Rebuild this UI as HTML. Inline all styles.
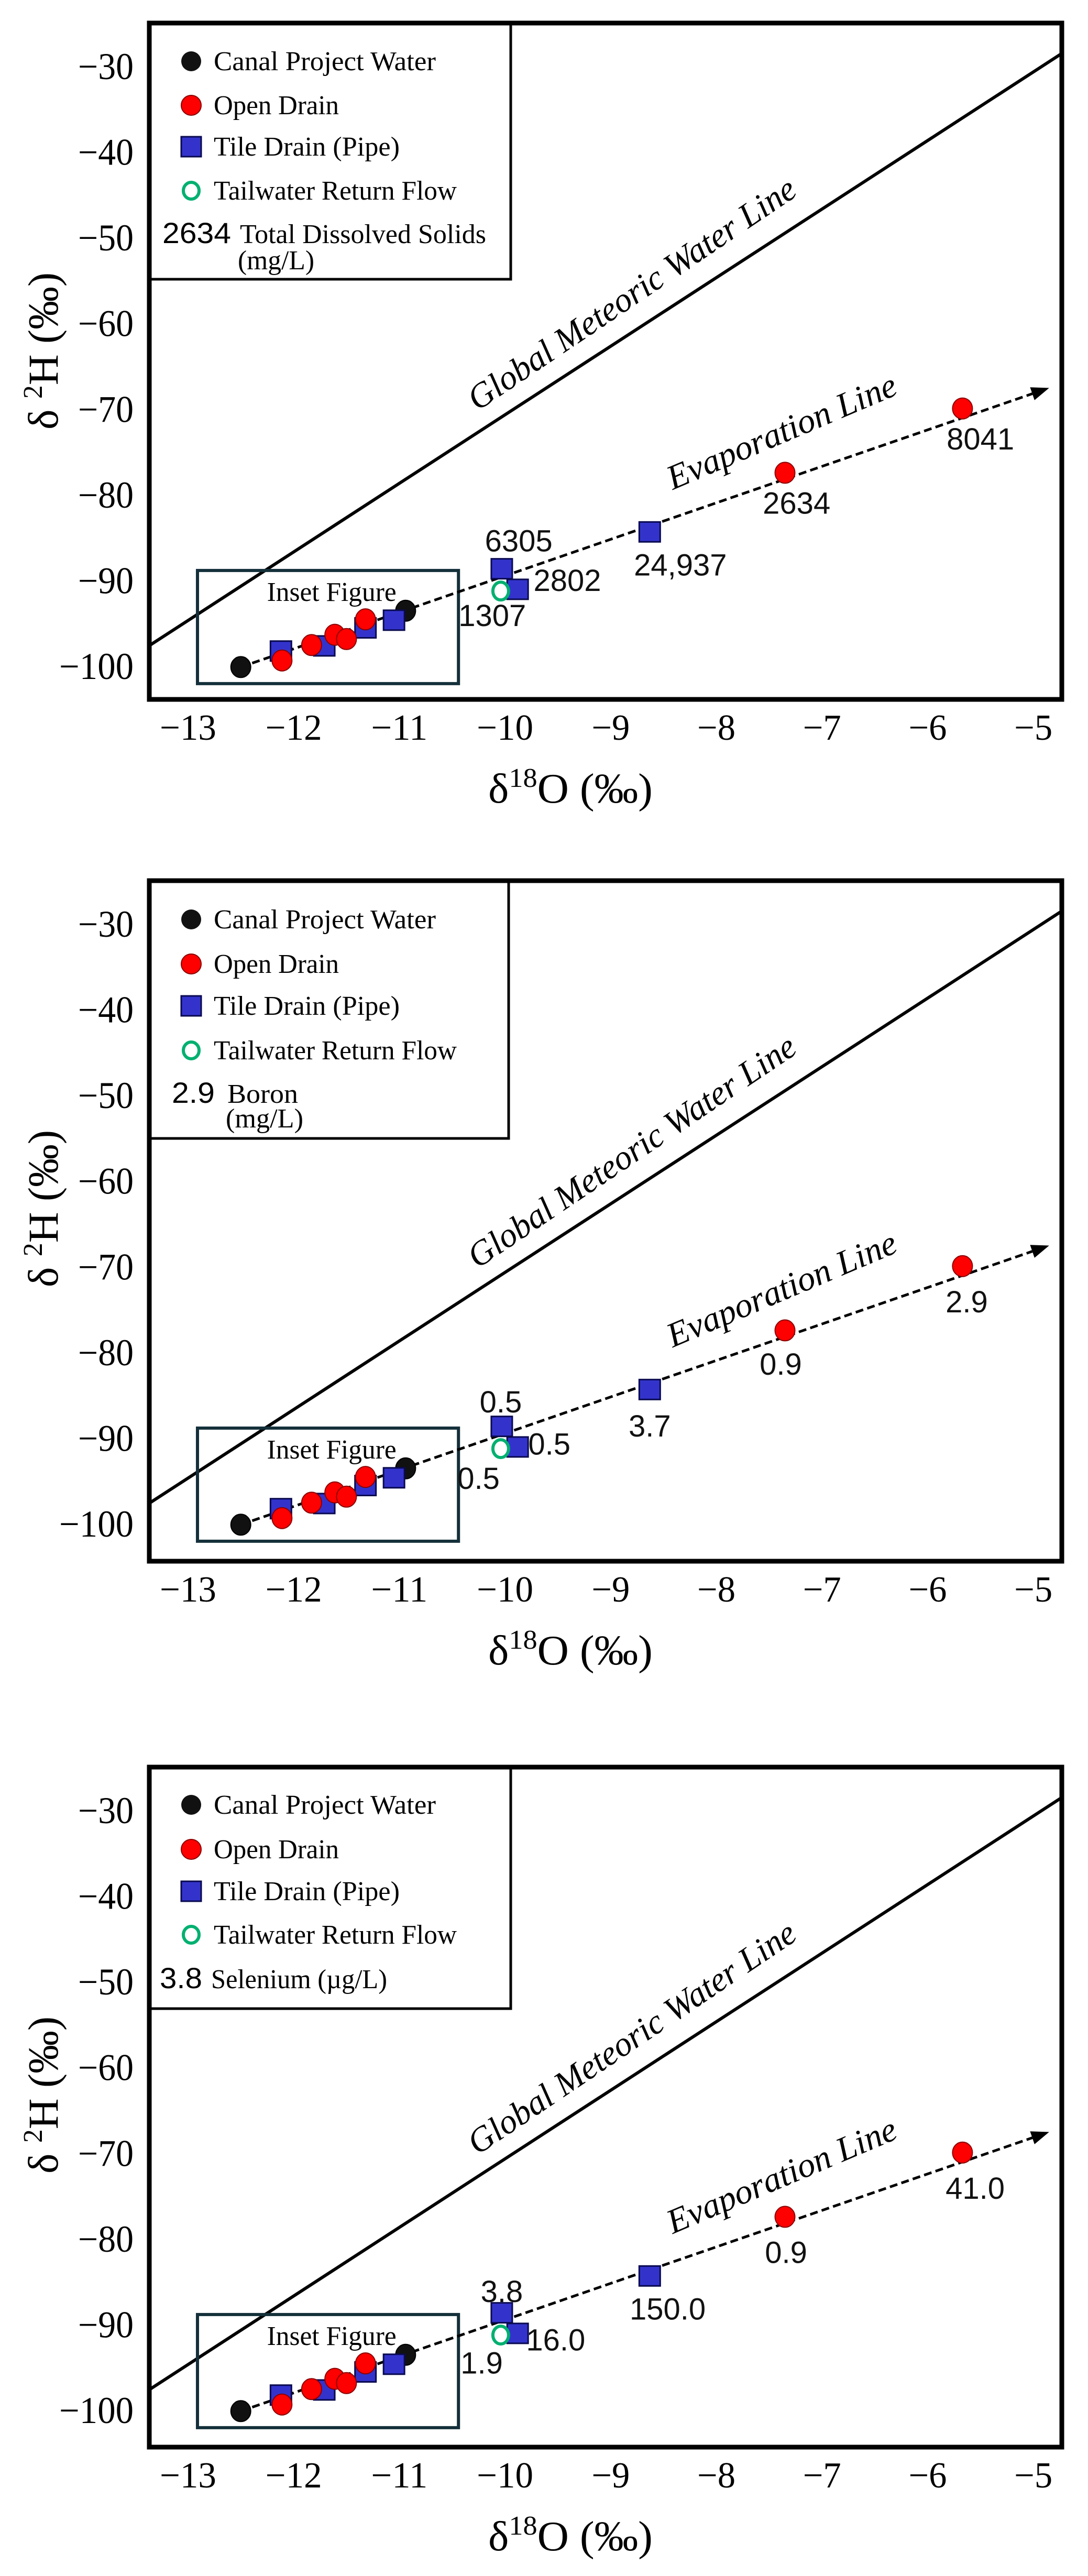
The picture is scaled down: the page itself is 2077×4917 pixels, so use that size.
<!DOCTYPE html>
<html>
<head>
<meta charset="utf-8">
<style>
  html,body{margin:0;padding:0;background:#fff;}
  svg{display:block;}
</style>
</head>
<body>
<svg id="fig" width="2077" height="4917" viewBox="0 0 2077 4917" xmlns="http://www.w3.org/2000/svg"></svg>
<script>
// ---------- data ----------
const xTicks = [-13,-12,-11,-10,-9,-8,-7,-6,-5];
const yTicks = [-30,-40,-50,-60,-70,-80,-90,-100];
const canalX = [-12.58,-11.02];
const canalY = [-100.07,-93.5];
const openX = [-12.19,-11.91,-11.69,-11.58,-11.40,-7.43,-5.75];
const openY = [-99.3,-97.5,-96.3,-96.8,-94.5,-77.4,-69.9];
const tileX = [-12.20,-11.79,-11.40,-11.13,-10.11,-9.96,-8.71];
const tileY = [-98.2,-97.6,-95.5,-94.6,-88.6,-91.0,-84.3];
const tailX = [-10.12];
const tailY = [-91.2];
const evapStart = [-12.58,-100.07];
const evapEnd = [-4.93,-67.5];
// annotation values per panel
const tdsValues = ["8041","2634","24,937","6305","2802","1307"];
const boronValues = ["2.9","0.9","3.7","0.5","0.5","0.5"];
const seleniumValues = ["41.0","0.9","150.0","3.8","16.0","1.9"];
const tdsLabelX = [-5.58,-7.32,-8.42,-9.95,-9.49,-10.20];
const tdsLabelY = [-73.4,-80.9,-88.1,-85.3,-89.9,-94.0];
const boronLabelX = [-5.71,-7.47,-8.71,-10.12,-9.66,-10.33];
const boronLabelY = [-74.0,-81.3,-88.5,-85.7,-90.6,-94.6];
const seleniumLabelX = [-5.63,-7.42,-8.54,-10.11,-9.60,-10.30];
const seleniumLabelY = [-74.0,-81.5,-88.1,-86.05,-91.7,-94.4];

// ---------- layout ----------
const NS = "http://www.w3.org/2000/svg";
const svg = document.getElementById('fig');
const L = 285, R = 2027;
const XMIN = -13.446, XMAX = -4.81;
const YMAX = -24.93, YPX = 16.36; // px per unit
const SERIF = '"Liberation Serif", "Times New Roman", serif';
const SANS = '"Liberation Sans", Arial, sans-serif';

function el(tag, attrs, parent){
  const e = document.createElementNS(NS, tag);
  for (const k in attrs) e.setAttribute(k, attrs[k]);
  (parent||svg).appendChild(e);
  return e;
}

const panels = [
  {top:44, bottom:1335, name:'tds', values:tdsValues, lx:tdsLabelX, ly:tdsLabelY, legBottom:533, legRight:975,
   rows:[117,201,280,364]},
  {top:1681, bottom:2980, name:'boron', values:boronValues, lx:boronLabelX, ly:boronLabelY, legBottom:2173, legRight:971,
   rows:[1755,1840,1920,2005]},
  {top:3373, bottom:4671, name:'selenium', values:seleniumValues, lx:seleniumLabelX, ly:seleniumLabelY, legBottom:3834, legRight:975,
   rows:[3445,3530,3610,3693]}
];

panels.forEach((p, pi) => {
  const g = el('g', {});
  
  
  const sx = v => L + (v - XMIN) / (XMAX - XMIN) * (R - L);
  const sy = v => p.top + (YMAX - v) * YPX;

  const cp = el('clipPath', {id:'clip'+pi}, g);
  el('rect', {x:L, y:p.top, width:R-L, height:p.bottom-p.top}, cp);
  const plot = el('g', {'clip-path':'url(#clip'+pi+')'}, g);

  // GMWL
  const gm = el('line', {x1:sx(XMIN), y1:sy(8*XMIN+10), x2:sx(XMAX), y2:sy(8*XMAX+10), stroke:'#000', 'stroke-width':6}, plot);
  
  
  const gt = el('text', {x:0, y:0, 'font-family':SERIF, 'font-style':'italic', 'font-size':66, 'text-anchor':'middle',
    textLength:740, lengthAdjust:'spacingAndGlyphs',
    transform:'translate(' + sx(-8.82) + ',' + sy(-57.6) + ') rotate(-34)'}, plot);
  gt.textContent = 'Global Meteoric Water Line';
  
  

  // Inset box
  const ib = el('rect', {x:sx(-12.99), y:sy(-88.8), width:sx(-10.52)-sx(-12.99), height:sy(-102.0)-sy(-88.8),
    fill:'none', stroke:'#14303a', 'stroke-width':6}, plot);
  
  
  const it = el('text', {x:sx(-11.72), y:sy(-91.3)+17, 'font-family':SERIF, 'font-size':52, 'text-anchor':'middle',
    textLength:247, lengthAdjust:'spacingAndGlyphs'}, plot);
  it.textContent = 'Inset Figure';
  
  

  // Evaporation line
  const x1 = sx(evapStart[0]), y1 = sy(evapStart[1]), x2 = sx(evapEnd[0]), y2 = sy(evapEnd[1]);
  const ang = Math.atan2(y2-y1, x2-x1);
  const ah = 34, aw = 13;
  const bx = x2 - ah*Math.cos(ang), by = y2 - ah*Math.sin(ang);
  const ev = el('line', {x1:x1, y1:y1, x2:bx, y2:by, stroke:'#000', 'stroke-width':5, 'stroke-dasharray':'15 8'}, plot);
  
  
  const arrow = el('polygon', {points:[x2+','+y2,
     (bx + aw*Math.sin(ang))+','+(by - aw*Math.cos(ang)),
     (bx - aw*Math.sin(ang))+','+(by + aw*Math.cos(ang))].join(' '), fill:'#000'}, plot);
  
  
  const et = el('text', {x:0, y:0, 'font-family':SERIF, 'font-style':'italic', 'font-size':66, 'text-anchor':'middle',
    textLength:470, lengthAdjust:'spacingAndGlyphs',
    transform:'translate(' + sx(-7.42) + ',' + sy(-73.8) + ') rotate(-23)'}, plot);
  et.textContent = 'Evaporation Line';
  
  

  // Points
  canalX.forEach((v,i) => {
    const c = el('ellipse', {cx:sx(v), cy:sy(canalY[i]), rx:19, ry:20, fill:'#111', stroke:'#000', 'stroke-width':2}, plot);
    
    
  });
  tileX.forEach((v,i) => {
    const s = el('rect', {x:sx(v)-20, y:sy(tileY[i])-19, width:40, height:38, fill:'#3333cc', stroke:'#0a0a50', 'stroke-width':3}, plot);
    
    
  });
  openX.forEach((v,i) => {
    const c = el('ellipse', {cx:sx(v), cy:sy(openY[i]), rx:19, ry:20, fill:'#ff0000', stroke:'#8a0000', 'stroke-width':2}, plot);
    
    
  });
  tailX.forEach((v,i) => {
    const c = el('ellipse', {cx:sx(v), cy:sy(tailY[i]), rx:15, ry:17, fill:'#fff', stroke:'#00b070', 'stroke-width':6}, plot);
    
    
  });

  // Value annotations
  p.values.forEach((t,i) => {
    const a = el('text', {x:sx(p.lx[i]), y:sy(p.ly[i])+21, 'font-family':SANS, 'font-size':58, 'text-anchor':'middle', fill:'#111'}, plot);
    a.textContent = t;
    
    
  });

  // Legend box
  const lb = el('rect', {x:L, y:p.top, width:p.legRight-L, height:p.legBottom-p.top, fill:'#fff', stroke:'#000', 'stroke-width':5}, g);
  
  
  const mx = 365;
  const names = ['Canal Project Water','Open Drain','Tile Drain (Pipe)','Tailwater Return Flow'];
  const lens = [424,239,355,464];
  p.rows.forEach((ry, i) => {
    let m;
    if (i === 0) m = el('ellipse', {cx:mx, cy:ry, rx:19, ry:19, fill:'#111'}, g);
    if (i === 1) m = el('ellipse', {cx:mx, cy:ry, rx:19, ry:19, fill:'#ff0000', stroke:'#8a0000', 'stroke-width':2}, g);
    if (i === 2) m = el('rect', {x:mx-19, y:ry-19, width:38, height:38, fill:'#3333cc', stroke:'#0a0a50', 'stroke-width':3}, g);
    if (i === 3) m = el('ellipse', {cx:mx, cy:ry, rx:15, ry:16, fill:'#fff', stroke:'#00b070', 'stroke-width':6}, g);
    
    
    const t = el('text', {x:408, y:ry+17, 'font-family':SERIF, 'font-size':52, textLength:lens[i], lengthAdjust:'spacingAndGlyphs'}, g);
    t.textContent = names[i];
    
    
  });
  function lt(x, y, s, fam, fs, len, nm){
    const t = el('text', {x:x, y:y, 'font-family':fam, 'font-size':fs, textLength:len, lengthAdjust:'spacingAndGlyphs'}, g);
    t.textContent = s;
    
    
  }
  if (pi === 0){
    lt(310, 464, '2634', SANS, 56, 131, 'legend-key-value');
    lt(458, 464, 'Total Dissolved Solids', SERIF, 52, 470, 'legend-key-label');
    lt(454, 514, '(mg/L)', SERIF, 52, 146, 'legend-key-unit');
  } else if (pi === 1){
    lt(328, 2105, '2.9', SANS, 56, 82, 'legend-key-value');
    lt(434, 2105, 'Boron', SERIF, 52, 135, 'legend-key-label');
    lt(431, 2152, '(mg/L)', SERIF, 52, 148, 'legend-key-unit');
  } else {
    lt(305, 3795, '3.8', SANS, 56, 81, 'legend-key-value');
    lt(403, 3795, 'Selenium (\u00B5g/L)', SERIF, 52, 336, 'legend-key-label');
  }

  // Axes frame
  const fr = el('rect', {x:L, y:p.top, width:R-L, height:p.bottom-p.top, fill:'none', stroke:'#000', 'stroke-width':9}, g);
  
  

  // Y ticks
  yTicks.forEach(v => {
    const s = '\u2212' + Math.abs(v);
    const t = el('text', {x:255, y:sy(v)+24, 'font-family':SERIF, 'font-size':72, 'text-anchor':'end',
      textLength: s.length > 3 ? 142 : 106, lengthAdjust:'spacingAndGlyphs'}, g);
    t.textContent = s;
    
    
  });
  // X ticks
  xTicks.forEach(v => {
    const s = '\u2212' + Math.abs(v);
    const t = el('text', {x:sx(v)-16, y:p.bottom+77, 'font-family':SERIF, 'font-size':70, 'text-anchor':'middle',
      textLength: s.length > 2 ? 108 : 73, lengthAdjust:'spacingAndGlyphs'}, g);
    t.textContent = s;
    
    
  });
  // Axis titles
  const yt = el('text', {x:0, y:0, 'font-family':SERIF, 'font-size':82, 'text-anchor':'middle',
    textLength:300, lengthAdjust:'spacingAndGlyphs',
    transform:'translate(110,' + (p.top+626) + ') rotate(-90)'}, g);
  
  
  yt.innerHTML = '\u03B4 <tspan font-size="52" dy="-30">2</tspan><tspan dy="30">H (\u2030)</tspan>';
  const xt = el('text', {x:1089, y:p.bottom+197, 'font-family':SERIF, 'font-size':80, 'text-anchor':'middle',
    textLength:314, lengthAdjust:'spacingAndGlyphs'}, g);
  
  
  xt.innerHTML = '\u03B4<tspan font-size="52" dy="-30">18</tspan><tspan dy="30">O (\u2030)</tspan>';
});
</script>
</body>
</html>
